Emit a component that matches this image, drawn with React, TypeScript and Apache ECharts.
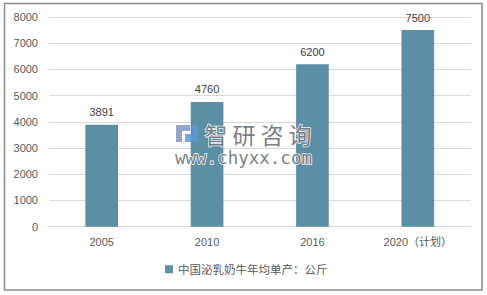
import React, { useEffect, useRef } from "react";
import * as echarts from "echarts";

const categories = ["2005", "2010", "2016", "2020（计划）"];
const values = [3891, 4760, 6200, 7500];
const seriesName = "中国泌乳奶牛年均单产：公斤";
const yMin = 0;
const yMax = 8000;
const yInterval = 1000;

const FONT = "'Liberation Sans', 'Noto Sans CJK SC', sans-serif";

export default function App() {
  const ref = useRef<HTMLDivElement>(null);
  useEffect(() => {
    if (!ref.current) return;
    const chart = echarts.init(ref.current, null, { renderer: "svg" });
    const wmChars = ["智", "研", "咨", "询"];
    const wmStyle = { fill: "rgba(95,105,115,0.85)", stroke: "rgba(255,255,255,0.9)", lineWidth: 1.5 };
    const Z = 100;
    chart.setOption({
      animation: false,
      backgroundColor: "#ffffff",
      grid: { left: 49, right: 16.5, top: 17, bottom: 68.3, containLabel: false },
      legend: {
        data: [seriesName],
        bottom: 15,
        left: 160,
        itemWidth: 8,
        itemHeight: 8,
        itemGap: 3,
        icon: "rect",
        textStyle: { color: "#595959", fontSize: 11.5, fontFamily: "'Noto Sans CJK SC', sans-serif" },
      },
      xAxis: {
        type: "category",
        data: categories,
        axisLine: { lineStyle: { color: "#d9d9d9", width: 1 } },
        axisTick: { show: false },
        axisLabel: { color: "#595959", fontSize: 11, fontFamily: FONT, margin: 10 },
      },
      yAxis: {
        type: "value",
        min: yMin,
        max: yMax,
        interval: yInterval,
        axisLine: { show: false },
        axisTick: { show: false },
        splitLine: { lineStyle: { color: "#d9d9d9", width: 1 } },
        axisLabel: {
          color: "#595959",
          fontSize: 11,
          fontFamily: FONT,
          margin: 11,
          formatter: (v: number) => String(v),
        },
      },
      series: [
        {
          name: seriesName,
          type: "bar",
          data: values,
          barWidth: "31%",
          itemStyle: { color: "#5b8fa6" },
          label: {
            show: true,
            position: "top",
            distance: 7,
            color: "#404040",
            fontSize: 11,
            fontFamily: FONT,
          },
        },
      ],
      graphic: [
        {
          type: "rect",
          z: Z,
          shape: { x: 4.5, y: 3.5, width: 477.5, height: 286.5 },
          style: { fill: "none", stroke: "#8c8c8c", lineWidth: 1.5 },
        },
        { type: "rect", z: Z, shape: { x: 176, y: 125, width: 14, height: 6 }, style: { fill: "rgba(130,150,195,0.85)" } },
        { type: "rect", z: Z, shape: { x: 176, y: 131, width: 6, height: 11 }, style: { fill: "rgba(130,150,195,0.85)" } },
        { type: "rect", z: Z, shape: { x: 185, y: 134, width: 13, height: 8 }, style: { fill: "rgba(90,150,215,0.85)" } },
        { type: "rect", z: Z, shape: { x: 192, y: 125, width: 6, height: 10 }, style: { fill: "rgba(90,150,215,0.85)" } },
        ...wmChars.map((c, i) => ({
          type: "text",
          z: Z,
          x: 216 + i * 28,
          y: 134,
          style: {
            text: c,
            ...wmStyle,
            fontSize: 23,
            fontFamily: "'Noto Sans CJK SC', sans-serif",
            align: "center",
            verticalAlign: "middle",
          },
        })),
        {
          type: "text",
          z: Z,
          x: 175,
          y: 158,
          style: {
            text: "www.chyxx.com",
            ...wmStyle,
            fontSize: 17.5,
            fontFamily: "'DejaVu Sans Mono', monospace",
            align: "left",
            verticalAlign: "middle",
          },
        },
      ],
    });
    return () => chart.dispose();
  }, []);
  return (
    <div
      ref={ref}
      style={{ position: "fixed", left: 0, top: 0, width: 487, height: 295, background: "#fff" }}
    />
  );
}
